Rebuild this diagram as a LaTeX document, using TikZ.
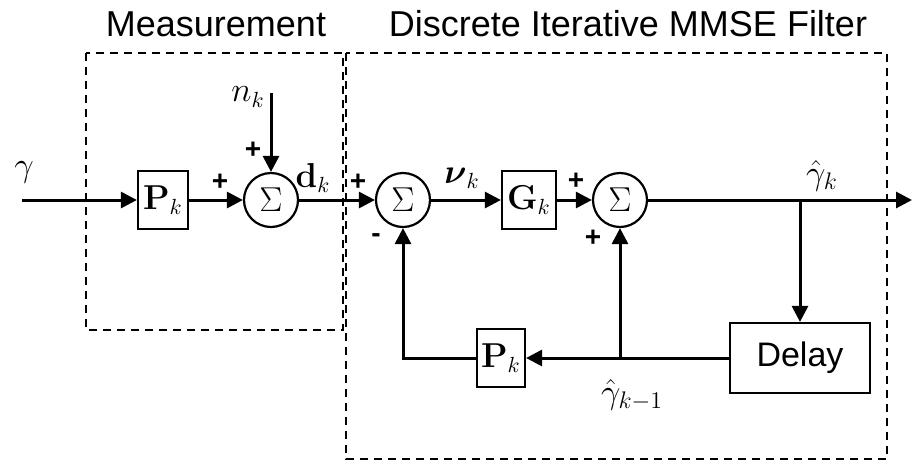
\documentclass[tikz,border=0pt]{standalone}
\usepackage[no-math]{fontspec}
\setmainfont{Liberation Sans}
\usepackage{amsmath}
\usetikzlibrary{arrows.meta}

\begin{document}
\begin{tikzpicture}[x=0.5pt, y=-0.5pt]
            \tikzstyle{block} = [rectangle, draw, line width=1.1pt, minimum width=25pt, minimum height=29pt, inner sep=0pt, font=\fontsize{16}{18}\selectfont]
            \tikzstyle{sum} = [circle, draw, line width=1.1pt, minimum size=27pt, inner sep=0pt, font=\fontsize{17}{19}\selectfont]
            \tikzstyle{arrow} = [line width=1.5pt, -{Triangle[length=8pt,width=8pt]}]
            \tikzstyle{sign} = [inner sep=0pt, font=\fontsize{14}{16}\selectfont\bfseries]
            \tikzstyle{lbl} = [inner sep=0pt, font=\fontsize{16}{18}\selectfont]
            \tikzstyle{biglbl} = [inner sep=0pt, font=\fontsize{18}{20}\selectfont]
            \tikzstyle{frame} = [line width=1.3pt, dash pattern=on 4pt off 3pt]
            \tikzstyle{title} = [inner sep=0pt, font=\fontsize{18}{21}\selectfont]

            \useasboundingbox (0,0) rectangle (912,462);

            % dashed frames and titles
            \draw[frame] (86,53) rectangle (343,330);
            \draw[frame] (346,53) rectangle (887,459);
            \node[title] (tmeas) at (216,24) {Measurement};
            \node[title] (tfilt) at (628,24) {Discrete Iterative MMSE Filter};

            % forward path
            \coordinate (in) at (22,200);
            \node[block] (p1) at (163,200) {$\mathbf{P}_k$};
            \node[sum] (s1) at (271,200) {$\Sigma$};
            \coordinate (noise) at (271,93);
            \node[sum] (s2) at (403,200) {$\Sigma$};
            \node[block, minimum width=27pt] (g) at (529,200) {$\mathbf{G}_k$};
            \node[sum] (s3) at (620,200) {$\Sigma$};
            \coordinate (out) at (912,200);
            \coordinate (branch) at (800,200);

            % feedback path
            \node[block, minimum width=70pt, minimum height=35pt, font=\fontsize{17}{19}\selectfont] (delay) at (800,358) {Delay};
            \node[block, minimum width=24pt] (p2) at (501,358) {$\mathbf{P}_k$};
            \coordinate (jn) at (s3 |- p2);

            \draw[arrow] (in) -- (p1);
            \draw[arrow] (p1) -- (s1);
            \draw[arrow] (noise) -- (s1);
            \draw[arrow] (s1) -- (s2);
            \draw[arrow] (s2) -- (g);
            \draw[arrow] (g) -- (s3);
            \draw[arrow] (s3) -- (out);
            \draw[arrow] (branch) -- (delay);
            \draw[arrow] (delay) -- (p2);
            \draw[arrow] (jn) -- (s3);
            \draw[arrow] (p2.west) -| (s2.south);

            % signal labels
            \node[biglbl] (lgamma) at (24,172) {$\gamma$};
            \node[lbl] (lnoise) at (248,97) {$n_k$};
            \node[lbl] (ld) at (313,178) {$\mathbf{d}_k$};
            \node[lbl] (lnu) at (462,178) {$\boldsymbol{\nu}_k$};
            \node[biglbl] (lhat) at (822,176) {$\hat{\gamma}_k$};
            \node[biglbl] (lprev) at (632,395) {$\hat{\gamma}_{k-1}$};

            % signs
            \node[sign] (a1) at (220,182) {+};
            \node[sign] (a2) at (253,150) {+};
            \node[sign] (a3) at (358,182) {+};
            \node[sign] (a4) at (376,238) {-};
            \node[sign] (a5) at (576,181) {+};
            \node[sign] (a6) at (593,238) {+};
        \end{tikzpicture}
\end{document}
